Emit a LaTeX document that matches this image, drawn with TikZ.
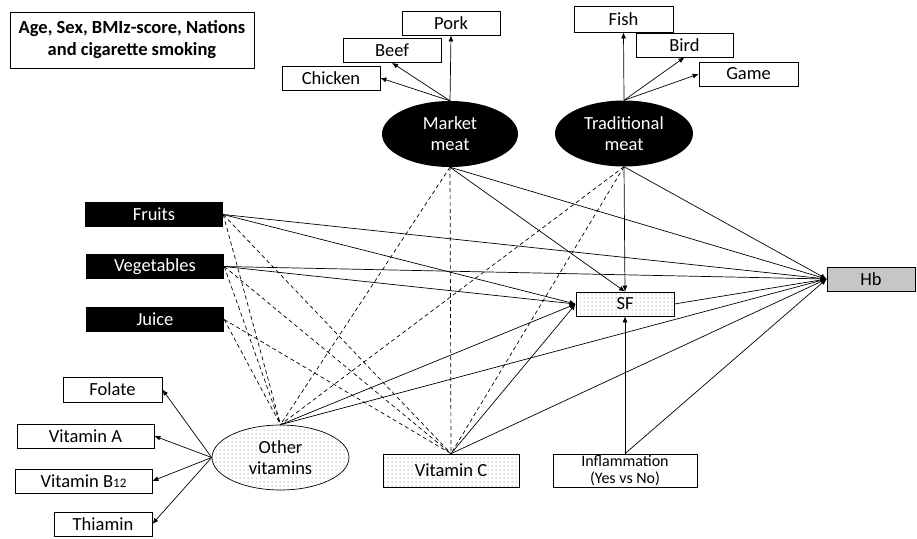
\documentclass[tikz,border=0pt]{standalone}
\usepackage{fontspec}
\setmainfont{Carlito}
\usetikzlibrary{arrows.meta,shapes.geometric,patterns.meta}
\tikzdeclarepattern{name=sparsedots,type=uncolored,
  bottom left={(-.5pt,-.5pt)},top right={(3.5pt,3.5pt)},tile size={(4pt,4pt)},
  code={\pgfpathcircle{\pgfpointorigin}{0.5pt}\pgfusepath{fill}}}

\begin{document}
\begin{tikzpicture}[x=1pt,y=-1pt,every node/.style={align=center,inner sep=0pt,font=\fontsize{18.5}{21}\selectfont},
 box/.style={draw,fill=white,line width=.7pt,minimum width=98pt,minimum height=24pt},
 blk/.style={fill=black,text=white,minimum width=138pt,minimum height=25pt},
 meat/.style={ellipse,fill=black,text=white,minimum width=136pt,minimum height=66pt},
 dotted box/.style={draw,line width=.7pt,pattern=sparsedots,pattern color=black!60},
 arr/.style={-{Latex[length=6pt,width=5pt]},line width=.7pt},
 assoc/.style={dash pattern=on 4pt off 3pt,line width=.7pt}]
\useasboundingbox (0,0) rectangle (917,538);
\node[box,minimum width=244pt,minimum height=56pt,font=\bfseries\fontsize{18.5}{22}\selectfont] (conf) at (132,40) {Age, Sex, BMIz-score, Nations\\and cigarette smoking};
% meat groups
\node[meat] (mm) at (450,134) {Market\\meat};
\node[meat,minimum width=138pt] (tm) at (624,133.5) {Traditional\\meat};
\node[box] (pork) at (451,23) {Pork};
\node[box] (beef) at (392,50.5) {Beef};
\node[box] (chicken) at (331,78) {Chicken};
\node[box,minimum width=99pt,minimum height=26pt] (fish) at (623.5,19) {Fish};
\node[box,minimum width=97pt] (bird) at (684.5,45) {Bird};
\node[box,minimum width=99pt] (game) at (748.5,74) {Game};
% food groups
\node[blk] (fruits) at (154,214.5) {Fruits};
\node[blk] (veg) at (155,266.5) {Vegetables};
\node[blk] (juice) at (155,319.5) {Juice};
% outcomes
\node[dotted box,minimum width=98pt,minimum height=24pt] (sf) at (625,304) {SF};
\node[draw,line width=.7pt,fill=gray!45,minimum width=88pt,minimum height=24pt] (hb) at (871,279) {Hb};
% vitamins
\node[dotted box,ellipse,minimum width=137pt,minimum height=65pt] (ov) at (280.5,457.5) {Other\\vitamins};
\node[dotted box,minimum width=136pt,minimum height=33pt] (vc) at (451,470.5) {Vitamin C};
\node[box,minimum width=144pt,minimum height=33pt,font=\fontsize{16}{17}\selectfont] (infl) at (625,470.5) {Inflammation\\(Yes vs No)};
\node[box,minimum width=99pt,minimum height=25pt] (folate) at (112.5,389.5) {Folate};
\node[box,minimum width=137pt] (vita) at (85.5,436) {Vitamin A};
\node[box,minimum width=137pt] (vitb) at (83.5,481) {Vitamin B{\fontsize{13}{14}\selectfont 12}};
\node[box] (thiamin) at (103,524) {Thiamin};

\foreach \t in {chicken.east,beef.south,pork.south} \draw[arr] (mm.north) -- (\t);
\foreach \t in {fish.south,bird.south,game.west} \draw[arr] (tm.north) -- (\t);
\foreach \t in {folate.east,vita.east,vitb.east,thiamin.east} \draw[arr] (ov.west) -- (\t);
% paths to Hb and SF
\foreach \s in {mm.south,tm.south,fruits.east,veg.east,sf.east,ov.north,vc.north,infl.north} \draw[arr] (\s) -- (hb.west);
\foreach \s in {mm.south,tm.south} \draw[arr] (\s) -- (sf.north);
\foreach \s in {fruits.east,veg.east,ov.north,vc.north} \draw[arr] (\s) -- (sf.west);
\draw[arr] (infl.north) -- (sf.south);
% correlations
\foreach \s in {fruits.east,veg.east,juice.east,mm.south,tm.south} {
  \draw[assoc] (\s) -- (ov.north);
  \draw[assoc] (\s) -- (vc.north);
}
\end{tikzpicture}
\end{document}
